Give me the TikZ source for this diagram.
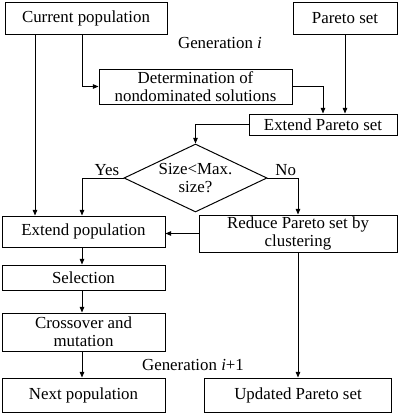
\documentclass[tikz,border=0pt]{standalone}
\usepackage{fontspec}
\setmainfont{Liberation Serif}
\usetikzlibrary{arrows.meta,shapes.geometric}
\tikzset{
	box/.style={draw, line width=0.7pt, inner sep=0pt, align=center, font=\fontsize{12}{12.5}\selectfont},
	arr/.style={-{Triangle[length=4pt,width=3.2pt]}, line width=0.7pt},
	txt/.style={inner sep=1pt, align=center, font=\fontsize{12}{12.5}\selectfont}
}
\begin{document}
\begin{tikzpicture}
	\useasboundingbox (0,0) rectangle (10,10.325);
	\path
	coordinate (lx) at (0.875,0)
	coordinate (ax) at (2.05,0)
	coordinate (bx) at (8.075,0)
	;
	% left column
	\node[box, minimum width=4.05cm, minimum height=0.8cm] (cur) at (2.15,9.875) {Current population};
	\node[box, minimum width=4.075cm, minimum height=0.775cm] (epop) at (2.0875,4.5375) {Extend population};
	\node[box, minimum width=4.075cm, minimum height=0.625cm] (sel) at (2.0875,3.3875) {Selection};
	\node[box, minimum width=4.075cm, minimum height=0.95cm] (cro) at (2.0875,2.025) {Crossover and\\mutation};
	\node[box, minimum width=4.075cm, minimum height=0.85cm] (nxt) at (2.0875,0.45) {Next population};
	% middle and right column
	\node[box, minimum width=2.6cm, minimum height=0.8cm] (par) at (8.625,9.875) {Pareto set};
	\node[box, minimum width=4.825cm, minimum height=0.875cm] (det) at (4.8875,8.1625) {Determination of\\nondominated solutions};
	\node[box, minimum width=3.7cm, minimum height=0.525cm] (ext) at (8.075,7.2125) {Extend Pareto set};
	\node[draw, diamond, aspect=2.1, line width=0.7pt, inner sep=0pt,
		minimum width=3.575cm, minimum height=1.7cm] (dia) at (4.8875,5.875) {};
	\node[txt] (dtext) at (dia.center) {Size<Max.\\size?};
	\node[box, minimum width=4.95cm, minimum height=0.925cm] (red) at (7.45,4.4875) {Reduce Pareto set by\\clustering};
	\node[box, minimum width=4.675cm, minimum height=0.85cm] (upd) at (7.45,0.45) {Updated Pareto set};
	% generation labels
	\node[txt] (gen1) at (5.5,9.25) {Generation \textit{i}};
	\node[txt] (gen2) at (4.825,1.2) {Generation \textit{i}+1};
	% connectors
	\draw[arr] (cur.south -| lx) -- (epop.north -| lx);
	\draw[arr] (cur.south -| ax) |- (det.west);
	\draw[arr] (det.east) -| (bx |- ext.north);
	\draw[arr] (par.south) -- (par.south |- ext.north);
	\draw[arr] (ext.west) -| (dia.north);
	\draw[arr] (dia.west) -| node[txt, above, pos=0.2] (yes) {Yes} (ax |- epop.north);
	\draw[arr] (dia.east) -| node[txt, above, pos=0.3] (no) {No} (red.north);
	\draw[arr] (red.west) -- (red.west -| epop.east);
	\draw[arr] (epop.south -| ax) -- (sel.north -| ax);
	\draw[arr] (sel.south -| ax) -- (cro.north -| ax);
	\draw[arr] (cro.south -| ax) -- (nxt.north -| ax);
	\draw[arr] (red.south) -- (red.south |- upd.north);
\end{tikzpicture}
\end{document}
